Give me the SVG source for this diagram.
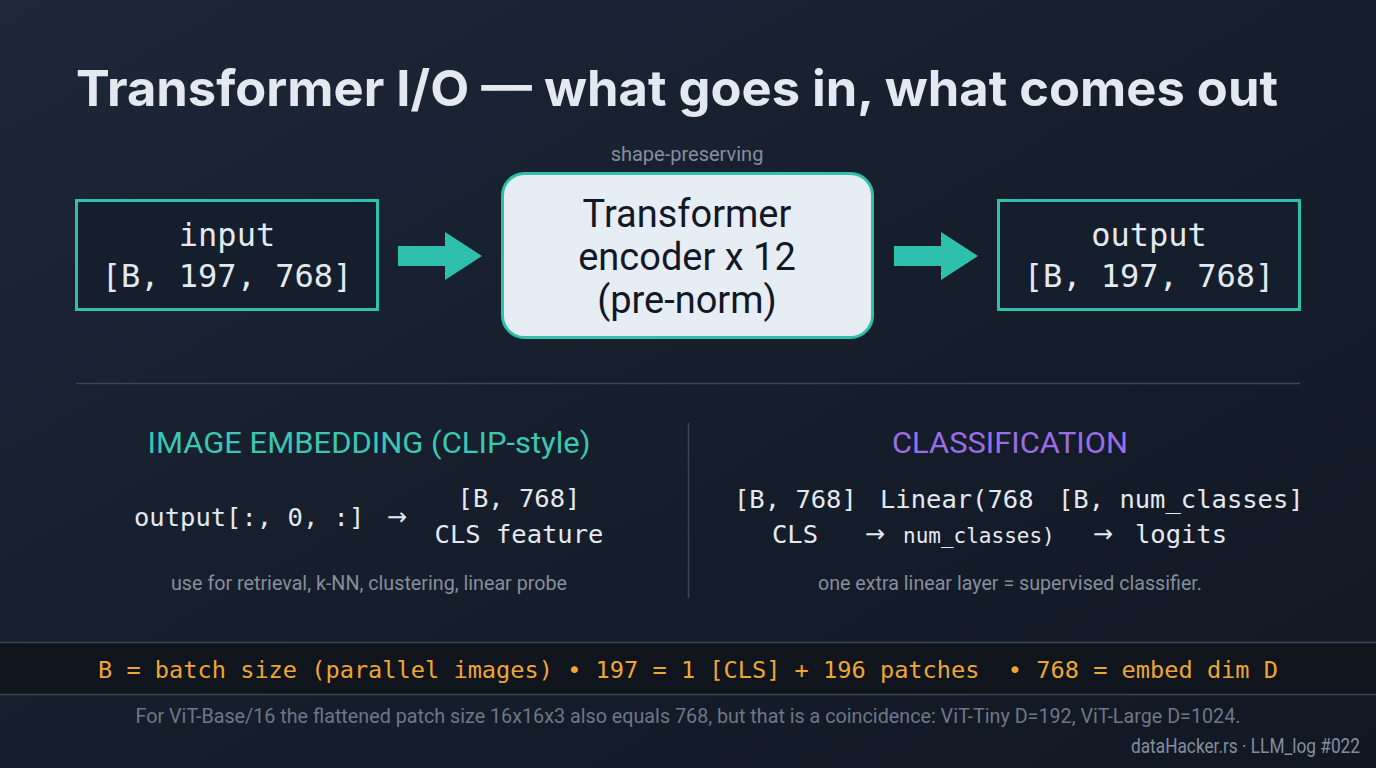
<svg xmlns="http://www.w3.org/2000/svg" width="1376" height="768" viewBox="0 0 1376 768">
<defs>
<linearGradient id="bg" x1="0" y1="0" x2="1" y2="1">
<stop offset="0" stop-color="#1d2738"/>
<stop offset="0.5" stop-color="#161e2c"/>
<stop offset="1" stop-color="#111823"/>
</linearGradient>
<style>
.title{font-family:Inter,Roboto,"Liberation Sans",sans-serif;font-weight:700;font-size:50px;fill:#e4e9f1}
.mono{font-family:"DejaVu Sans Mono","Liberation Mono",monospace;fill:#e4e9f1}
.arr{font-family:"DejaVu Sans","Liberation Sans",sans-serif;fill:#e4e9f1;font-size:24px}
.sans{font-family:Roboto,"Liberation Sans",sans-serif}
.box{fill:#151e2c;stroke:#2fc0ad;stroke-width:3}
.arrow{fill:#2fc0ad}
.cap{font-family:Roboto,"Liberation Sans",sans-serif;font-size:20px;fill:#848e9d}
</style>
</defs>
<rect width="1376" height="768" fill="url(#bg)"/>
<text class="title" x="76" y="106" textLength="1202" lengthAdjust="spacingAndGlyphs">Transformer I/O — what goes in, what comes out</text>

<g id="connectors">
<path class="arrow" d="M398 246 H445 V232 L482 256 L445 280 V266 H398 Z"/>
<path class="arrow" d="M894 246 H941 V232 L978 256 L941 280 V266 H894 Z"/>
</g>

<g id="input">
<rect class="box" x="76.5" y="200.5" width="301" height="109"/>
<text class="mono" x="227" y="246" font-size="32" text-anchor="middle">input</text>
<text class="mono" x="227" y="287" font-size="32" text-anchor="middle">[B, 197, 768]</text>
</g>

<g id="encoder">
<text class="sans" x="687" y="161" font-size="20" fill="#848e9d" text-anchor="middle">shape-preserving</text>
<rect x="502.5" y="173.5" width="370" height="164" rx="22" fill="#e7edf5" stroke="#2fc0ad" stroke-width="3"/>
<text class="sans" x="687" y="227" font-size="38" fill="#121826" text-anchor="middle">Transformer</text>
<text class="sans" x="687" y="270" font-size="38" fill="#121826" text-anchor="middle">encoder x 12</text>
<text class="sans" x="687" y="313" font-size="38" fill="#121826" text-anchor="middle">(pre-norm)</text>
</g>

<g id="output">
<rect class="box" x="998.5" y="200.5" width="301" height="109"/>
<text class="mono" x="1149" y="246" font-size="32" text-anchor="middle">output</text>
<text class="mono" x="1149" y="287" font-size="32" text-anchor="middle">[B, 197, 768]</text>
</g>

<line x1="76" y1="383.5" x2="1300" y2="383.5" stroke="#3a4556" stroke-width="1.5"/>
<line x1="688.5" y1="423" x2="688.5" y2="598" stroke="#3a4556" stroke-width="1.5"/>

<g id="embedding">
<text class="sans" x="369" y="453" font-size="29" fill="#3cc6b4" text-anchor="middle" textLength="443" lengthAdjust="spacingAndGlyphs">IMAGE EMBEDDING (CLIP-style)</text>
<text class="mono" x="134" y="526" font-size="25.5">output[:, 0, :]</text>
<text class="arr" x="387" y="525">→</text>
<text class="mono" x="519" y="507" font-size="25.5" text-anchor="middle">[B, 768]</text>
<text class="mono" x="519" y="543" font-size="25.5" text-anchor="middle">CLS feature</text>
<text class="cap" x="369" y="590" text-anchor="middle" textLength="396" lengthAdjust="spacingAndGlyphs">use for retrieval, k-NN, clustering, linear probe</text>
</g>

<g id="classification">
<text class="sans" x="1010" y="453" font-size="29" fill="#9a6ee6" text-anchor="middle" textLength="236" lengthAdjust="spacingAndGlyphs">CLASSIFICATION</text>
<text class="mono" x="734" y="508" font-size="25.5">[B, 768]</text>
<text class="mono" x="880" y="508" font-size="25.5">Linear(768</text>
<text class="mono" x="1058" y="508" font-size="25.5">[B, num_classes]</text>
<text class="mono" x="795" y="543" font-size="25.5" text-anchor="middle">CLS</text>
<text class="arr" x="865" y="542">→</text>
<text class="mono" x="903" y="543" font-size="21">num_classes)</text>
<text class="arr" x="1093" y="542">→</text>
<text class="mono" x="1181" y="543" font-size="25.5" text-anchor="middle">logits</text>
<text class="cap" x="1010" y="590" text-anchor="middle" textLength="384" lengthAdjust="spacingAndGlyphs">one extra linear layer = supervised classifier.</text>
</g>

<g id="legend">
<rect x="0" y="642" width="1376" height="52" fill="#0f141d"/>
<line x1="0" y1="642.5" x2="1376" y2="642.5" stroke="#3a4556" stroke-width="1.5"/>
<line x1="0" y1="694.5" x2="1376" y2="694.5" stroke="#3a4556" stroke-width="1.5"/>
<text class="mono" x="98" y="678" font-size="23.5" style="fill:#eea632" textLength="1180" lengthAdjust="spacingAndGlyphs" xml:space="preserve">B = batch size (parallel images) • 197 = 1 [CLS] + 196 patches  • 768 = embed dim D</text>
</g>

<text class="cap" x="688" y="723" text-anchor="middle" style="fill:#6d7787" textLength="1105" lengthAdjust="spacingAndGlyphs">For ViT-Base/16 the flattened patch size 16x16x3 also equals 768, but that is a coincidence: ViT-Tiny D=192, ViT-Large D=1024.</text>
<text class="cap" x="1360" y="753" text-anchor="end" font-size="18" textLength="229" lengthAdjust="spacingAndGlyphs">dataHacker.rs · LLM_log #022</text>
</svg>
